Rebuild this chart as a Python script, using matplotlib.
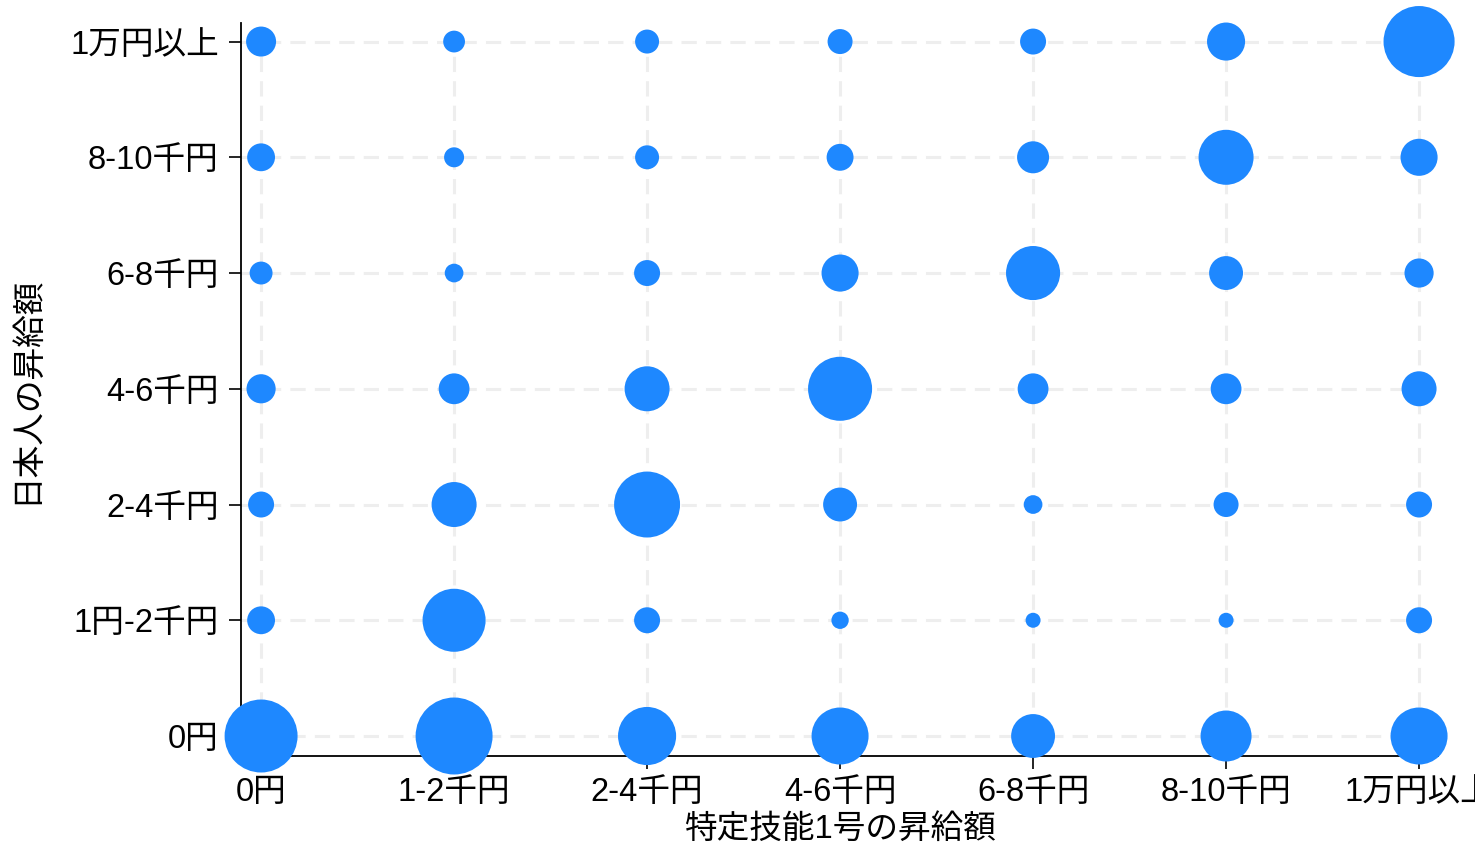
import matplotlib
matplotlib.use("Agg")
import matplotlib.pyplot as plt
import numpy as np

x_labels = ['0円', '1-2千円', '2-4千円', '4-6千円', '6-8千円', '8-10千円', '1万円以上']
y_labels = ['0円', '1円-2千円', '2-4千円', '4-6千円', '6-8千円', '8-10千円', '1万円以上']

# bubble values; rows = y category (0円 .. 1万円以上), columns = x category
row_0 = [213, 237, 135, 130, 77, 104, 130]
row_1 = [31, 159, 27, 12, 9, 9, 27]
row_2 = [27, 81, 174, 46, 14, 25, 27]
row_3 = [34, 38, 81, 164, 38, 38, 49]
row_4 = [21, 14, 27, 55, 117, 46, 34]
row_5 = [31, 16, 23, 29, 41, 121, 55]
row_6 = [36, 19, 23, 25, 27, 58, 202]

rows = [row_0, row_1, row_2, row_3, row_4, row_5, row_6]

plt.rcParams['font.family'] = ['Liberation Sans', 'Noto Sans CJK JP']

fig = plt.figure(figsize=(14.75, 8.47), dpi=100)
ax = fig.add_axes([0.1634, 0.1074, 0.9749 - 0.1634, 0.9728 - 0.1074])

xs, ys, vs = [], [], []
for yi, row in enumerate(rows):
    for xi, v in enumerate(row):
        xs.append(xi)
        ys.append(yi)
        vs.append(v)
vs = np.array(vs)
sizes = vs * 25 * 0.72 ** 2

ax.scatter(xs, ys, s=sizes, color='#1E88FF', edgecolors='none', zorder=3, clip_on=False)

ax.set_xlim(-0.104, 6.098)
ax.set_ylim(-0.173, 6.16)
ax.set_xticks(range(len(x_labels)))
ax.set_xticklabels(x_labels)
ax.set_yticks(range(len(y_labels)))
ax.set_yticklabels(y_labels)

ax.grid(True, color='#eeeeee', linestyle=(0, (5, 3)), linewidth=2.2, zorder=0)
ax.set_axisbelow(True)

for s in ['top', 'right']:
    ax.spines[s].set_visible(False)
for s in ['left', 'bottom']:
    ax.spines[s].set_linewidth(1.3)
    ax.spines[s].set_color('black')

ax.tick_params(axis='both', length=9, width=1.2, labelsize=23.5, colors='black')
ax.tick_params(axis='y', pad=7)
ax.tick_params(axis='x', pad=6)

ax.set_xlabel('特定技能1号の昇給額', fontsize=23.5, labelpad=4)
ax.set_ylabel('日本人の昇給額', fontsize=23.5, labelpad=20)

fig.savefig('out.png', dpi=100)
